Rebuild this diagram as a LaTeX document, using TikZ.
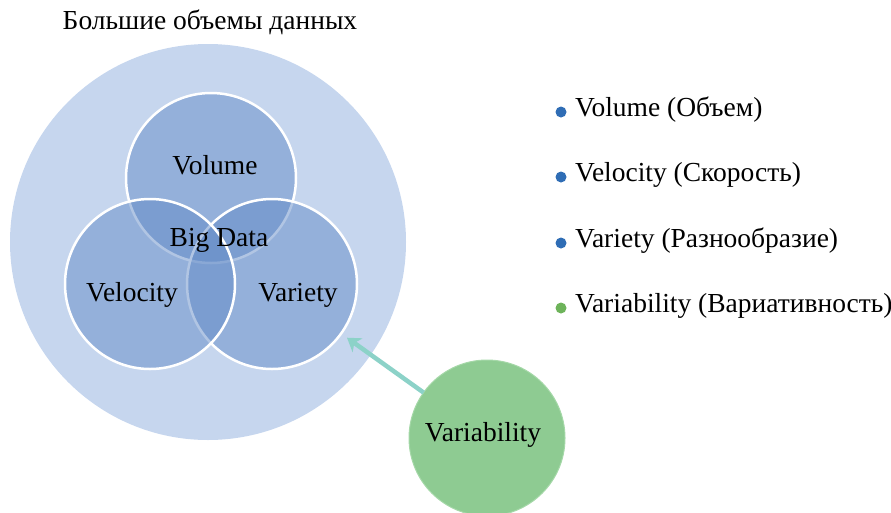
\documentclass[tikz,border=0pt]{standalone}
\usepackage{fontspec}
\setmainfont{Liberation Serif}
\usetikzlibrary{arrows.meta}
\definecolor{outerblue}{RGB}{198,214,238}
\definecolor{vennblue}{RGB}{100,140,200}
\definecolor{vargreen}{RGB}{142,203,146}
\definecolor{ringgreen}{RGB}{165,216,168}
\definecolor{arrowteal}{RGB}{140,210,200}
\definecolor{dotblue}{RGB}{47,109,181}
\definecolor{dotgreen}{RGB}{109,179,90}

\begin{document}
\begin{tikzpicture}[x=1pt,y=-1pt,
    every node/.style={font=\fontsize{27.5}{32}\selectfont},
    venn/.style={circle,minimum size=170pt,inner sep=0pt,fill=vennblue,fill opacity=0.5,draw=white,draw opacity=1,line width=2.5pt},
    dot/.style={circle,inner sep=0pt,minimum size=11pt,fill=#1},
    legend/.style={anchor=west,inner sep=0pt}]
    \useasboundingbox (0,0) rectangle (891,512);
    \fill[outerblue] (208,242) circle (198);
    \node[anchor=center] (title) at (210,22) {Большие объемы данных};
    \node[venn] (vol) at (211,178) {};
    \node[venn] (var) at (272,284) {};
    \node[venn] (vel) at (150,284) {};
    \node (volt) at (215,165) {Volume};
    \node (bigt) at (219,240) {Big Data};
    \node (velt) at (132,295) {Velocity};
    \node (vart) at (298,295) {Variety};
    \node[circle,minimum size=156pt,inner sep=0pt,outer sep=0pt,fill=vargreen,draw=ringgreen,line width=1pt] (vrb) at (487,438) {};
    \node (vrbt) at (483,435) {Variability};
    \draw[arrowteal,line width=4.5pt,-{Stealth[length=13pt,width=17pt,inset=4pt]},shorten >=6pt] (vrb) -- (var);
    \node[dot=dotblue] (d1) at (561,112) {};
    \node[dot=dotblue] (d2) at (561,177) {};
    \node[dot=dotblue] (d3) at (561,243) {};
    \node[dot=dotgreen] (d4) at (561,308) {};
    \node[legend] (l1) at (575,110) {Volume (Объем)};
    \node[legend] (l2) at (575,175) {Velocity (Скорость)};
    \node[legend] (l3) at (575,241) {Variety (Разнообразие)};
    \node[legend] (l4) at (575,306) {Variability (Вариативность)};
\end{tikzpicture}
\end{document}
